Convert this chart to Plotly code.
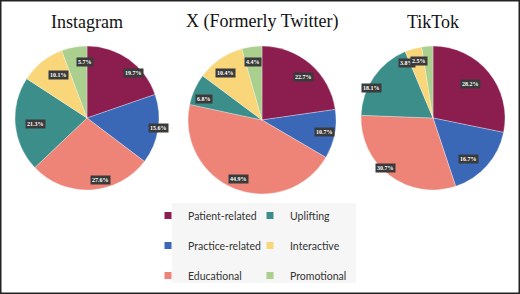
import math
import plotly.graph_objects as go

categories = ["Patient-related", "Practice-related", "Educational", "Uplifting", "Interactive", "Promotional"]
platforms = ["Instagram", "X (Formerly Twitter)", "TikTok"]
instagram = [19.7, 15.6, 27.6, 21.3, 10.1, 5.7]
x_twitter = [22.7, 10.7, 44.9, 6.8, 10.4, 4.4]
tiktok = [28.2, 16.7, 30.7, 18.1, 3.8, 2.5]
series = [instagram, x_twitter, tiktok]
legend_order = ["Patient-related", "Uplifting", "Practice-related", "Interactive", "Educational", "Promotional"]

colors = {
    "Patient-related": "#8B1E4F",
    "Practice-related": "#3A68B7",
    "Educational": "#EE8478",
    "Uplifting": "#3C8E8B",
    "Interactive": "#F8D679",
    "Promotional": "#AACF8E",
}

W, H = 520, 294
# pie geometry in pixels (center x, center y from top, radius)
geo = [(87, 118, 72), (262, 120, 74), (433, 118, 72)]

fig = go.Figure()
annotations = []
for name, vals, (cx, cy, r) in zip(platforms, series, geo):
    dom_x = [(cx - r) / W, (cx + r) / W]
    dom_y = [(H - cy - r) / H, (H - cy + r) / H]
    fig.add_trace(go.Pie(
        labels=categories, values=vals, sort=False, direction="clockwise", rotation=0,
        marker=dict(colors=[colors[c] for c in categories], line=dict(color="rgba(255,255,255,0.5)", width=0.6)),
        textinfo="none", showlegend=False, domain=dict(x=dom_x, y=dom_y),
        hovertemplate="%{label}: %{value}%<extra>" + name + "</extra>",
    ))
    total = sum(vals)
    cum = 0
    for v in vals:
        th = math.radians((cum + v / 2) / total * 360)
        cum += v
        px = cx + 0.86 * r * math.sin(th)
        py = cy - 0.86 * r * math.cos(th)
        annotations.append(dict(
            x=px / W, y=1 - py / H, xref="paper", yref="paper", showarrow=False,
            text=f"<b>{v:.1f}%</b>", font=dict(family="Liberation Serif", size=6, color="white"),
            bgcolor="#3a3a3a", borderpad=1,
        ))
    annotations.append(dict(
        x=cx / W, y=1 - 22 / H, xref="paper", yref="paper", showarrow=False,
        text=name, font=dict(family="Liberation Serif", size=18, color="#111"),
        xanchor="center", yanchor="middle",
    ))

for i, c in enumerate(legend_order):
    fig.add_trace(go.Scatter(
        x=[None], y=[None], mode="markers", name=c,
        marker=dict(symbol="square", size=7, color=colors[c]),
        legend="legend" if i % 2 == 0 else "legend2", legendgroup=c,
    ))

leg_common = dict(
    orientation="v", traceorder="grouped", tracegroupgap=11,
    font=dict(family="Lato", size=10.5, color="#333"),
    bgcolor="rgba(0,0,0,0)", yanchor="top", y=1 - 201 / H, xanchor="left",
    itemwidth=30,
)
fig.update_layout(
    width=W, height=H, margin=dict(l=0, r=0, t=0, b=0),
    paper_bgcolor="white", plot_bgcolor="white",
    xaxis=dict(visible=False), yaxis=dict(visible=False),
    legend=dict(x=148 / W, **leg_common),
    legend2=dict(x=250 / W, **leg_common),
    annotations=annotations,
    shapes=[
        dict(type="rect", xref="paper", yref="paper", x0=172 / W, x1=356 / W, y0=1 - 283 / H, y1=1 - 203 / H,
             fillcolor="#f6f6f6", line=dict(width=0), layer="below"),
        dict(type="rect", xref="paper", yref="paper", x0=0, x1=1, y0=0, y1=1,
             line=dict(color="#222", width=3), fillcolor="rgba(0,0,0,0)"),
    ],
)
fig.write_html("out.html")
